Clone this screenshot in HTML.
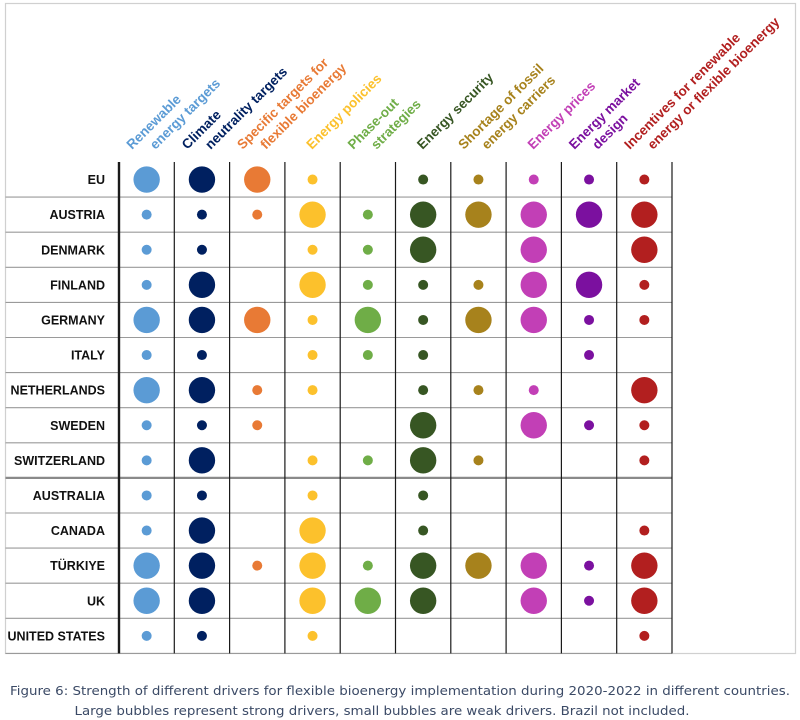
<!DOCTYPE html>
<html><head><meta charset="utf-8"><style>
html,body{margin:0;padding:0;background:#fff;width:800px;height:720px;overflow:hidden}
svg{display:block}
</style></head><body>
<svg id="chart" width="800" height="720" viewBox="0 0 800 720" xmlns="http://www.w3.org/2000/svg">
<rect x="5.5" y="3.5" width="790" height="650" fill="none" stroke="#d0d0d0" stroke-width="1.2"/>
<g id="grid"></g><g id="labels"></g><g id="bubbles"></g>
<text x="400" y="695" text-anchor="middle" font-family="'DejaVu Sans', sans-serif" font-size="12.5" fill="#3b4a66" textLength="780" lengthAdjust="spacingAndGlyphs">Figure 6: Strength of different drivers for flexible bioenergy implementation during 2020-2022 in different countries.</text>
<text x="382" y="715" text-anchor="middle" font-family="'DejaVu Sans', sans-serif" font-size="12.5" fill="#3b4a66" textLength="615" lengthAdjust="spacingAndGlyphs">Large bubbles represent strong drivers, small bubbles are weak drivers. Brazil not included.</text>
</svg>
<script>
const drivers = [["Renewable","energy targets"],["Climate","neutrality targets"],["Specific targets for","flexible bioenergy"],["Energy policies"],["Phase-out","strategies"],["Energy security"],["Shortage of fossil","energy carriers"],["Energy prices"],["Energy market","design"],["Incentives for renewable","energy or flexible bioenergy"]];
const driverColors = ["#5b9bd5","#002060","#e87a35","#fcc12c","#6fad47","#375623","#a7821c","#c23fb6","#7b109f","#b21f1f"];
const countries = ["EU","AUSTRIA","DENMARK","FINLAND","GERMANY","ITALY","NETHERLANDS","SWEDEN","SWITZERLAND","AUSTRALIA","CANADA","TÜRKIYE","UK","UNITED STATES"];
const strength = [
[2,2,2,1,0,1,1,1,1,1],
[1,1,1,2,1,2,2,2,2,2],
[1,1,0,1,1,2,0,2,0,2],
[1,2,0,2,1,1,1,2,2,1],
[2,2,2,1,2,1,2,2,1,1],
[1,1,0,1,1,1,0,0,1,0],
[2,2,1,1,0,1,1,1,0,2],
[1,1,1,0,0,2,0,2,1,1],
[1,2,0,1,1,2,1,0,0,1],
[1,1,0,1,0,1,0,0,0,0],
[1,2,0,2,0,1,0,0,0,1],
[2,2,1,2,1,2,2,2,1,2],
[2,2,0,2,2,2,0,2,1,2],
[1,1,0,1,0,0,0,0,0,1]];
const NS="http://www.w3.org/2000/svg";
const x0=119, cw=55.3, y0=162, rh=35.1;
const colX=i=>x0+i*cw, rowY=j=>y0+j*rh;
const radius=v=>v===2?13.2:(v===1?5:0);
function mk(tag,attrs,parent){const e=document.createElementNS(NS,tag);for(const k in attrs)e.setAttribute(k,attrs[k]);parent.appendChild(e);return e;}
const grid=document.getElementById('grid'), labels=document.getElementById('labels'), bubbles=document.getElementById('bubbles');
for(let j=1;j<=countries.length;j++){
  const sep=j===9;
  const l=mk('line',{x1:5.5,x2:672,y1:rowY(j),y2:rowY(j),stroke:sep?'#8a8a8a':'#9a9a9a','stroke-width':sep?2.2:1.1},grid);
  
  
}
for(let i=0;i<=drivers.length;i++){
  const l=mk('line',{x1:colX(i),x2:colX(i),y1:y0,y2:rowY(countries.length),stroke:'#1a1a1a','stroke-width':i===0?2.4:1.2},grid);
  
  
}
countries.forEach((c,j)=>{
  const t=mk('text',{x:105,y:rowY(j)+rh/2+4.5,'text-anchor':'end','font-family':"'Liberation Sans', sans-serif",'font-size':12.5,'font-weight':'bold',fill:'#111'},labels);
  t.textContent=c;
  
  
});
drivers.forEach((d,i)=>{
  const sx=colX(i)+(d.length===1?27:13), sy=150;
  const t=mk('text',{transform:`translate(${sx},${sy}) rotate(-45)`,'font-family':"'Liberation Sans', sans-serif",'font-size':13.5,'font-weight':'bold',fill:driverColors[i]},labels);
  
  
  d.forEach((line,k)=>{const ts=mk('tspan',{x:k*16.5,y:k*16.5},t);ts.textContent=line;});
});
strength.forEach((row,j)=>row.forEach((v,i)=>{
  if(!v)return;
  const c=mk('circle',{cx:colX(i)+cw/2,cy:rowY(j)+rh/2,r:radius(v),fill:driverColors[i]},bubbles);
  
  
}));
</script>
</body></html>
